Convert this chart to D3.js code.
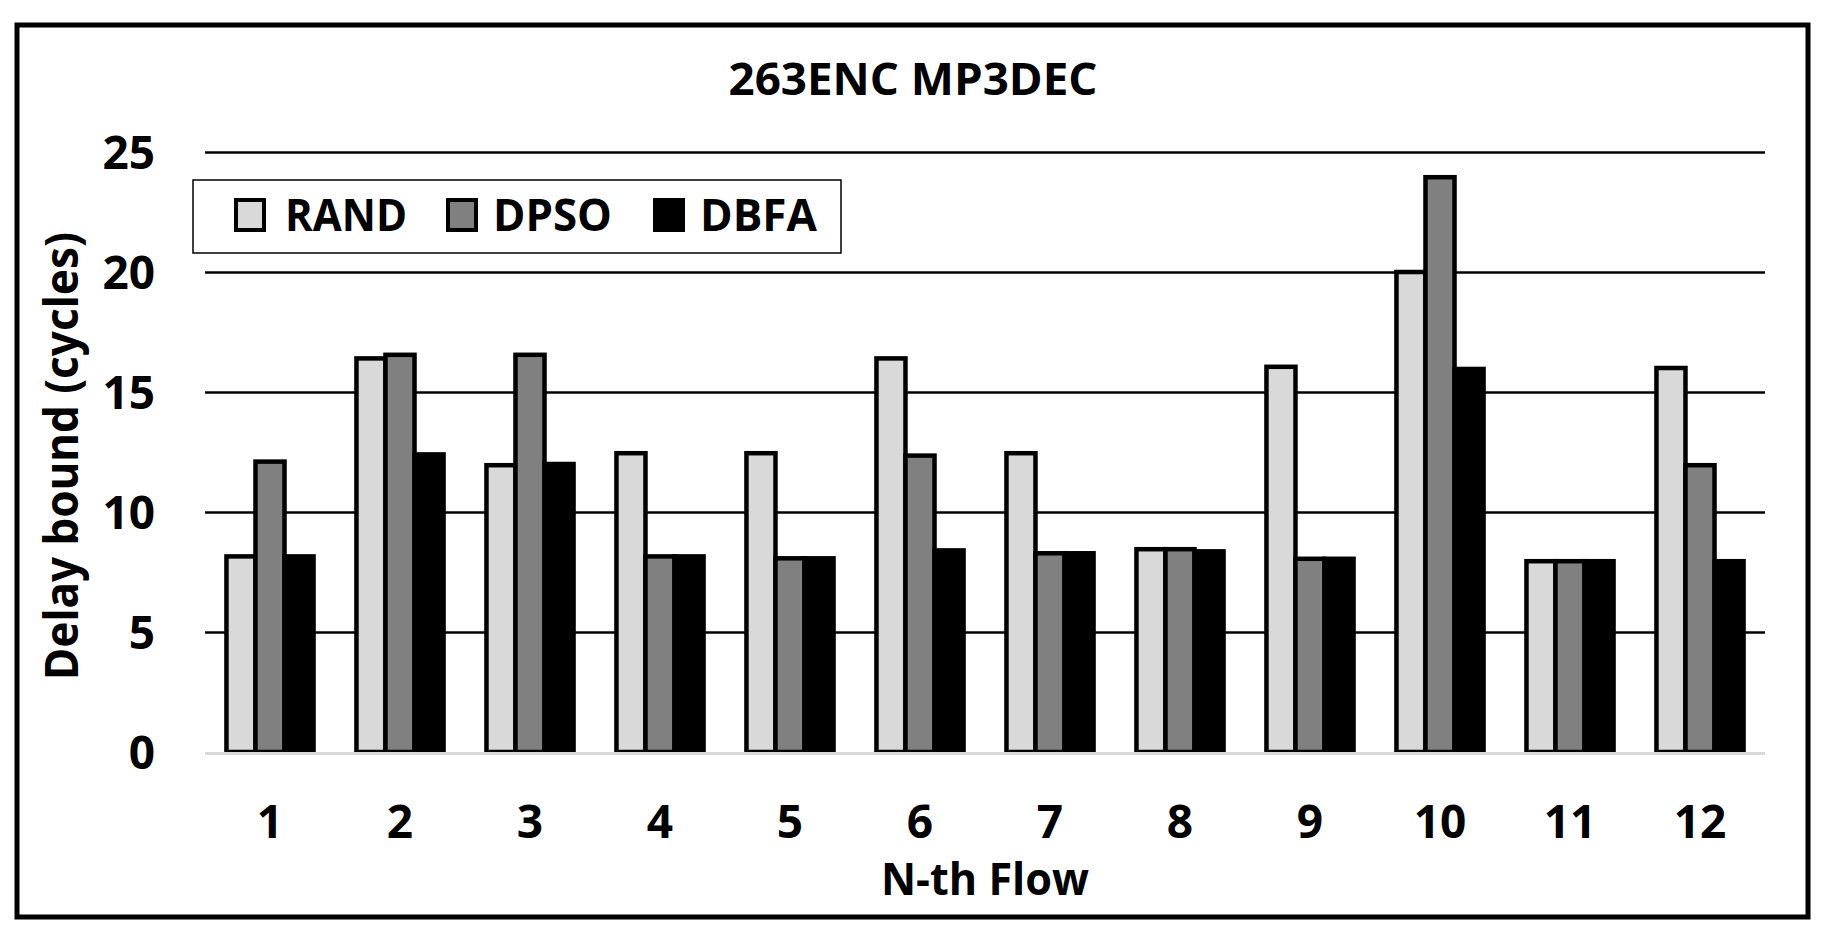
<!DOCTYPE html>
<html>
<head>
<meta charset="utf-8">
<script src="https://cdn.jsdelivr.net/npm/d3@7"></script>
<style>
  html, body { margin: 0; padding: 0; background: #fff; }
  svg { display: block; }
  text { font-family: "Open Sans", "Noto Sans", sans-serif; font-weight: 700; fill: #000; }
</style>
</head>
<body>
<svg id="chart" width="1828" height="932"></svg>
<script>
// ---- data ----
const categories = ["1","2","3","4","5","6","7","8","9","10","11","12"];
const seriesNames = ["RAND","DPSO","DBFA"];
const randValues = [8.15, 16.4, 11.95, 12.45, 12.45, 16.4, 12.45, 8.45, 16.05, 20.0, 7.95, 16.0];
const dpsoValues = [12.1, 16.55, 16.55, 8.15, 8.07, 12.35, 8.28, 8.45, 8.05, 23.95, 7.95, 11.95];
const dbfaValues = [8.15, 12.4, 12.0, 8.15, 8.07, 8.4, 8.28, 8.36, 8.05, 15.96, 7.95, 7.95];
const yTicks = [0, 5, 10, 15, 20, 25];
const seriesColors = ["#d9d9d9", "#808080", "#000000"];
const chartTitle = "263ENC MP3DEC";
const xTitle = "N-th Flow";
const yTitle = "Delay bound (cycles)";

const seriesValues = [randValues, dpsoValues, dbfaValues];

// ---- layout ----
const svg = d3.select("#chart");
const plot = { left: 205, right: 1765, top: 152, bottom: 752 };

const x = d3.scaleBand().domain(categories)
  .range([plot.left, plot.right]).paddingInner(0.33).paddingOuter(0.165);
const xs = d3.scaleBand().domain(seriesNames).range([0, x.bandwidth()]);
const y = d3.scaleLinear().domain([0, 25]).range([plot.bottom, plot.top]);
const color = d3.scaleOrdinal().domain(seriesNames).range(seriesColors);

// outer border
svg.append("rect").attr("x", 17).attr("y", 25).attr("width", 1791).attr("height", 892)
  .attr("fill", "#fff").attr("stroke", "#000").attr("stroke-width", 5);

// gridlines
const grid = svg.append("g").attr("transform", `translate(${plot.left},0)`)
  .call(d3.axisLeft(y).tickValues(yTicks.filter(d => d > 0))
        .tickSize(-(plot.right - plot.left)).tickFormat(""));
grid.select(".domain").remove();
grid.selectAll(".tick line").attr("stroke", "#000").attr("stroke-width", 2.5);

// y tick labels
const yAxis = svg.append("g").attr("transform", `translate(${plot.left},0)`)
  .call(d3.axisLeft(y).tickValues(yTicks).tickSize(0).tickPadding(50));
yAxis.select(".domain").remove();
yAxis.selectAll("text").attr("font-size", 46).attr("dy", "0.36em")
  .style("font-family", '"Open Sans", sans-serif').style("font-weight", 700);

// bars
const data = categories.map((c, i) => ({ cat: c, vals: seriesNames.map((s, j) => ({ s, v: seriesValues[j][i] })) }));
const groups = svg.append("g").selectAll("g").data(data).join("g")
  .attr("transform", d => `translate(${x(d.cat)},0)`);
groups.selectAll("rect").data(d => d.vals).join("rect")
  .attr("x", d => xs(d.s))
  .attr("width", xs.bandwidth())
  .attr("y", d => y(d.v))
  .attr("height", d => y(0) - y(d.v))
  .attr("fill", d => color(d.s))
  .attr("stroke", "#000").attr("stroke-width", 4.5);

// zero line
svg.append("line").attr("x1", plot.left).attr("x2", plot.right)
  .attr("y1", y(0) + 1.5).attr("y2", y(0) + 1.5)
  .attr("stroke", "#d9d9d9").attr("stroke-width", 3);

// x tick labels
const xAxis = svg.append("g").attr("transform", `translate(0,${plot.bottom})`)
  .call(d3.axisBottom(x).tickSize(0));
xAxis.select(".domain").remove();
xAxis.selectAll("text").attr("font-size", 46).attr("dy", null).attr("y", 86)
  .style("font-family", '"Open Sans", sans-serif').style("font-weight", 700);

// title
svg.append("text").attr("x", 913).attr("y", 95).attr("text-anchor", "middle")
  .attr("font-size", 45).attr("textLength", 369).attr("lengthAdjust", "spacingAndGlyphs")
  .text(chartTitle);

// x title
svg.append("text").attr("x", (plot.left + plot.right) / 2).attr("y", 895).attr("text-anchor", "middle")
  .attr("font-size", 45).attr("textLength", 208).attr("lengthAdjust", "spacingAndGlyphs")
  .text(xTitle);

// y title
svg.append("text").attr("transform", "translate(78,456) rotate(-90)").attr("text-anchor", "middle")
  .attr("font-size", 46).attr("textLength", 448).attr("lengthAdjust", "spacingAndGlyphs")
  .style("font-family", '"Noto Sans", "Open Sans", sans-serif')
  .text(yTitle);

// legend
const legend = svg.append("g");
legend.append("rect").attr("x", 193).attr("y", 180).attr("width", 648).attr("height", 73)
  .attr("fill", "#fff").attr("stroke", "#000").attr("stroke-width", 1.5);
const legendX = [236, 448, 655];
const legendTextX = [285, 493, 700];
const legendTextLen = [122, 119, 117];
const li = legend.selectAll("g.item").data(seriesNames).join("g").attr("class", "item");
li.append("rect").attr("x", (d, i) => legendX[i]).attr("y", 200).attr("width", 28).attr("height", 30)
  .attr("fill", d => color(d)).attr("stroke", "#000").attr("stroke-width", 4);
li.append("text").attr("x", (d, i) => legendTextX[i]).attr("y", 231)
  .attr("font-size", 45).attr("textLength", (d, i) => legendTextLen[i]).attr("lengthAdjust", "spacingAndGlyphs")
  .text(d => d);
</script>
</body>
</html>
